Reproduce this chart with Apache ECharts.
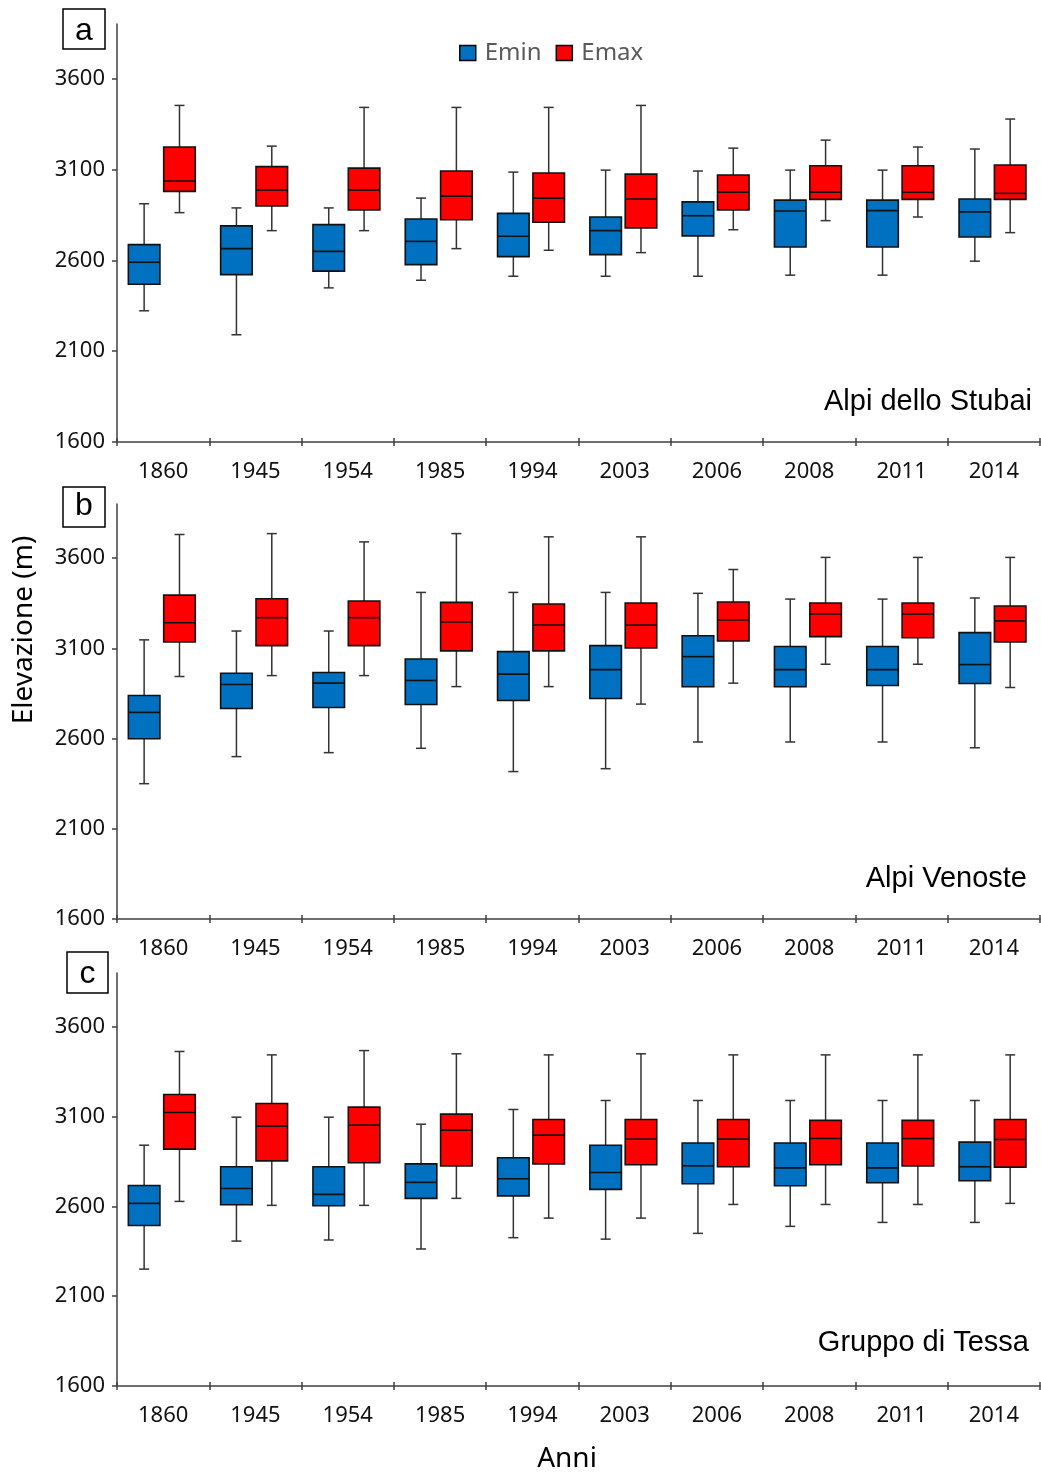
<!DOCTYPE html>
<html>
<head>
<meta charset="utf-8">
<script src="https://cdn.jsdelivr.net/npm/echarts@6/dist/echarts.min.js"></script>
<style>
html,body{margin:0;padding:0;background:#fff;}
#chart{width:1041px;height:1474px;}
</style>
</head>
<body>
<div id="chart"></div>
<script>
// Categories (years)
const years = ['1860','1945','1954','1985','1994','2003','2006','2008','2011','2014'];
// Y tick labels
const yTicks = [1600, 2100, 2600, 3100, 3600];

// Each entry: [lower whisker, Q1, median, Q3, upper whisker]
// Panel a – Alpi dello Stubai
const stubaiEmin = [
  [2322,2468,2589,2686,2911],[2190,2521,2664,2789,2888],[2448,2540,2649,2796,2888],
  [2490,2576,2704,2827,2942],[2512,2620,2732,2858,3085],[2512,2631,2763,2838,3096],
  [2512,2734,2845,2921,3091],[2518,2673,2871,2931,3096],[2518,2673,2873,2931,3096],
  [2595,2728,2866,2937,3212]
];
const stubaiEmax = [
  [2862,2979,3036,3223,3452],[2763,2899,2986,3115,3228],[2763,2877,2986,3107,3441],
  [2664,2823,2953,3091,3441],[2655,2809,2942,3080,3441],[2642,2778,2937,3074,3452],
  [2768,2877,2975,3069,3217],[2818,2935,2975,3120,3261],[2838,2935,2974,3120,3223],
  [2752,2935,2968,3124,3377]
];
// Panel b – Alpi Venoste
const venosteEmin = [
  [2350,2599,2745,2839,3147],[2500,2767,2900,2962,3196],[2522,2772,2907,2966,3196],
  [2546,2789,2922,3041,3410],[2417,2811,2957,3082,3410],[2433,2822,2982,3115,3410],
  [2581,2887,3054,3170,3405],[2581,2887,2982,3110,3373],[2581,2894,2982,3110,3373],
  [2549,2905,3010,3187,3379]
];
const venosteEmax = [
  [2944,3135,3242,3395,3731],[2949,3115,3270,3375,3736],[2949,3115,3270,3362,3690],
  [2888,3086,3246,3355,3736],[2888,3086,3229,3346,3718],[2791,3102,3229,3351,3718],
  [2907,3141,3257,3357,3537],[3012,3165,3290,3351,3604],[3012,3159,3290,3351,3604],
  [2883,3135,3252,3335,3604]
];
// Panel c – Gruppo di Tessa
const tessaEmin = [
  [2251,2494,2617,2717,2941],[2407,2609,2700,2821,3097],[2413,2604,2667,2821,3097],
  [2363,2645,2734,2837,3058],[2426,2659,2754,2871,3140],[2418,2695,2789,2941,3190],
  [2450,2726,2826,2953,3190],[2489,2715,2815,2953,3190],[2511,2732,2815,2953,3190],
  [2511,2743,2821,2958,3190]
];
const tessaEmax = [
  [2628,2919,3123,3223,3463],[2606,2854,3047,3173,3444],[2606,2843,3053,3153,3468],
  [2645,2826,3025,3114,3450],[2535,2837,2997,3084,3444],[2535,2832,2975,3084,3450],
  [2611,2821,2975,3084,3444],[2611,2832,2978,3079,3444],[2611,2826,2978,3079,3444],
  [2617,2819,2973,3084,3444]
];

const panelTitles = ['Alpi dello Stubai', 'Alpi Venoste', 'Gruppo di Tessa'];
const panelLetters = ['a', 'b', 'c'];
const seriesNames = ['Emin', 'Emax'];

const BLUE = '#0070C0', RED = '#FF0000';
const AXIS = '#404040';
const TICK_FONT = '"Noto Sans", "Open Sans", sans-serif';
const ARIAL = '"Liberation Sans", Arial, sans-serif';

const panels = [
  {emin: stubaiEmin, emax: stubaiEmax, top: 24, height: 418},
  {emin: venosteEmin, emax: venosteEmax, top: 504, height: 415},
  {emin: tessaEmin, emax: tessaEmax, top: 973, height: 413}
];

function makeRender(fill, shift) {
  return function (params, api) {
    const c = api.value(0);
    const band = api.size([1, 0])[0];
    const cx = api.coord([c, 2000])[0] + shift * band;
    const bw = band * 0.342;
    const cap = 10;
    const yLow = api.coord([c, api.value(1)])[1];
    const yQ1 = api.coord([c, api.value(2)])[1];
    const yMed = api.coord([c, api.value(3)])[1];
    const yQ3 = api.coord([c, api.value(4)])[1];
    const yHigh = api.coord([c, api.value(5)])[1];
    const wStyle = {stroke: '#333', lineWidth: 1.5};
    return {
      type: 'group',
      children: [
        {type: 'line', shape: {x1: cx, y1: yHigh, x2: cx, y2: yQ3}, style: wStyle},
        {type: 'line', shape: {x1: cx, y1: yQ1, x2: cx, y2: yLow}, style: wStyle},
        {type: 'line', shape: {x1: cx - cap / 2, y1: yHigh, x2: cx + cap / 2, y2: yHigh}, style: wStyle},
        {type: 'line', shape: {x1: cx - cap / 2, y1: yLow, x2: cx + cap / 2, y2: yLow}, style: wStyle},
        {type: 'rect', shape: {x: cx - bw / 2, y: yQ3, width: bw, height: yQ1 - yQ3},
          style: {fill: fill, stroke: '#111', lineWidth: 1.6}},
        {type: 'line', shape: {x1: cx - bw / 2, y1: yMed, x2: cx + bw / 2, y2: yMed},
          style: {stroke: '#111', lineWidth: 1.6}}
      ]
    };
  };
}

const grid = [], xAxis = [], yAxis = [], series = [];
panels.forEach(function (p, i) {
  grid.push({left: 117, right: 1, top: p.top, height: p.height, outerBoundsMode: 'none', containLabel: false});
  xAxis.push({
    type: 'category', gridIndex: i, data: years, boundaryGap: true,
    axisLine: {show: true, lineStyle: {color: AXIS, width: 1.5}},
    axisTick: {show: true, alignWithLabel: false, length: 4, interval: 0, lineStyle: {color: AXIS, width: 1.5}},
    axisLabel: {show: true, interval: 0, fontSize: 22, color: '#111', fontFamily: TICK_FONT, margin: 19},
    splitLine: {show: false}
  });
  xAxis.push({
    type: 'category', gridIndex: i, data: years, boundaryGap: true, position: 'bottom',
    axisLine: {show: false},
    axisTick: {show: true, inside: true, alignWithLabel: false, length: 4, interval: 0, lineStyle: {color: AXIS, width: 1.5}},
    axisLabel: {show: false},
    splitLine: {show: false}
  });
  yAxis.push({
    type: 'value', gridIndex: i, min: 1600, max: 3900, interval: 500,
    axisLine: {show: true, lineStyle: {color: AXIS, width: 1.5}},
    axisTick: {show: true, length: 5, customValues: yTicks, lineStyle: {color: AXIS, width: 1.5}},
    axisLabel: {show: true, customValues: yTicks, formatter: function (v) { return String(v); },
      fontSize: 22, color: '#111', fontFamily: TICK_FONT, margin: 12},
    splitLine: {show: false}
  });
  [[p.emin, BLUE, -0.206, 0], [p.emax, RED, 0.177, 1]].forEach(function (s) {
    series.push({
      type: 'custom', name: seriesNames[s[3]],
      xAxisIndex: i * 2, yAxisIndex: i,
      itemStyle: {color: s[1], borderColor: '#000'},
      encode: {x: 0, y: [1, 2, 3, 4, 5]},
      renderItem: makeRender(s[1], s[2]),
      data: s[0].map(function (d, k) { return [k].concat(d); }),
      silent: true, animation: false
    });
  });
});

const graphic = [];
const letterBoxes = [
  {x: 63, y: 9, w: 42, h: 40, ty: 31},
  {x: 63, y: 487, w: 42, h: 40, ty: 506},
  {x: 67, y: 952, w: 41, h: 41, ty: 974}
];
letterBoxes.forEach(function (b, i) {
  graphic.push({type: 'rect', shape: {x: b.x, y: b.y, width: b.w, height: b.h},
    style: {fill: '#fff', stroke: '#000', lineWidth: 1.5}});
  graphic.push({type: 'text', x: b.x + b.w / 2, y: b.ty,
    style: {text: panelLetters[i], font: '32px ' + ARIAL, fill: '#000', textAlign: 'center', textVerticalAlign: 'middle'}});
});
const titleY = [402, 879, 1343];
const titleRight = [1032, 1027, 1029];
panelTitles.forEach(function (t, i) {
  graphic.push({type: 'text', x: titleRight[i], y: titleY[i],
    style: {text: t, font: '29px ' + ARIAL, fill: '#000', textAlign: 'right', textVerticalAlign: 'middle'}});
});
graphic.push({type: 'text', x: 24, y: 630, rotation: Math.PI / 2,
  style: {text: 'Elevazione (m)', font: '28px ' + TICK_FONT, fill: '#000', textAlign: 'center', textVerticalAlign: 'middle'}});
graphic.push({type: 'text', x: 567, y: 1459,
  style: {text: 'Anni', font: '28px ' + TICK_FONT, fill: '#000', textAlign: 'center', textVerticalAlign: 'middle'}});

const chart = echarts.init(document.getElementById('chart'), null, {renderer: 'canvas'});
chart.setOption({
  animation: false,
  backgroundColor: '#fff',
  legend: {
    left: 459, top: 41, padding: 0,
    icon: 'rect', itemWidth: 16, itemHeight: 15, itemGap: 14,
    selectedMode: false,
    data: [
      {name: 'Emin', itemStyle: {color: BLUE, borderColor: '#000', borderWidth: 1.5}},
      {name: 'Emax', itemStyle: {color: RED, borderColor: '#000', borderWidth: 1.5}}
    ],
    textStyle: {fontSize: 24, color: '#595959', fontFamily: TICK_FONT, padding: [0, 0, 0, 4]}
  },
  grid: grid, xAxis: xAxis, yAxis: yAxis, series: series, graphic: graphic
});
</script>
</body>
</html>
